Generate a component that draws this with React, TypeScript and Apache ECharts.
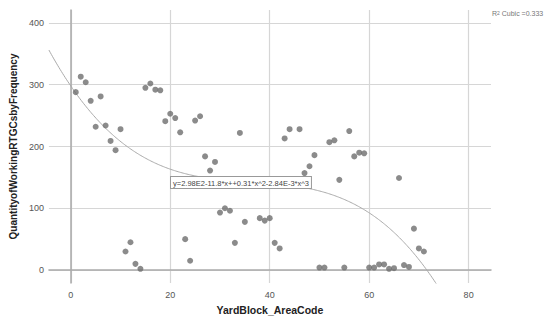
import React, { useEffect, useRef } from "react";
import * as echarts from "echarts";

const xValues = [1,2,3,4,5,6,7,8,9,10,11,12,13,14,15,16,17,18,19,20,21,22,23,24,25,26,27,28,29,30,31,32,33,34,35,38,39,40,41,42,43,44,46,47,48,49,50,51,52,53,54,55,56,57,58,59,60,61,62,63,64,65,66,67,68,69,70,71];
const yValues = [288,313,304,274,232,281,234,209,194,228,30,45,10,2,295,302,292,291,241,253,246,223,50,15,242,249,184,161,175,93,100,96,44,222,78,84,80,84,44,35,213,228,228,157,168,186,4,4,207,210,146,4,225,184,190,189,4,4,9,9,2,3,149,8,5,67,35,30];

// Cubic fit coefficients printed on the chart: y = b0 + b1*x + b2*x^2 + b3*x^3
const fitCoef = [298, -11.8, 0.31, -2.84e-3];
const fitLabel = "y=2.98E2-11.8*x++0.31*x^2-2.84E-3*x^3";
const rSquared = "0.333";

const xMin = -4.4;
const xMax = 84.5;
const yMin = -21;
const yMax = 421;

export default function App() {
  const ref = useRef<HTMLDivElement>(null);
  useEffect(() => {
    if (!ref.current) return;
    const chart = echarts.init(ref.current, null, { renderer: "svg" });
    const points = xValues.map((x, i) => [x, yValues[i]]);
    const curve: number[][] = [];
    for (let x = xMin; x <= xMax + 1e-9; x += 0.25) {
      const y = fitCoef[0] + fitCoef[1] * x + fitCoef[2] * x * x + fitCoef[3] * x * x * x;
      curve.push([x, y]);
    }
    const font = "Arial, 'Liberation Sans', sans-serif";
    chart.setOption({
      animation: false,
      backgroundColor: "#ffffff",
      textStyle: { fontFamily: font },
      grid: { left: 48, right: 59, top: 10, bottom: 41, containLabel: false },
      xAxis: {
        type: "value",
        min: xMin,
        max: xMax,
        name: "YardBlock_AreaCode",
        nameLocation: "middle",
        nameGap: 21,
        nameTextStyle: { fontSize: 10.5, fontWeight: "bold", color: "#222", fontFamily: font },
        axisLine: { show: true, lineStyle: { color: "#aaa", width: 1.5 } },
        axisTick: { show: false },
        axisLabel: { showMinLabel: false, showMaxLabel: false, fontSize: 9, color: "#555", margin: 7, fontFamily: font },
        splitLine: { show: true, showMinLine: false, showMaxLine: false, lineStyle: { color: "#d6d6d6", width: 1.2 } },
      },
      yAxis: {
        type: "value",
        min: yMin,
        max: yMax,
        name: "QuantityofWorkingRTGCsbyFrequency",
        nameLocation: "middle",
        nameGap: 23.5,
        nameTextStyle: { fontSize: 10, fontWeight: "bold", color: "#222", fontFamily: font },
        axisLine: { show: true, lineStyle: { color: "#aaa", width: 1.5 } },
        axisTick: { show: false },
        axisLabel: { showMinLabel: false, showMaxLabel: false, fontSize: 9, color: "#555", margin: 5, fontFamily: font },
        splitLine: { show: true, showMinLine: false, showMaxLine: false, lineStyle: { color: "#d6d6d6", width: 1.2 } },
      },
      series: [
        {
          type: "line",
          data: curve,
          showSymbol: false,
          symbol: "none",
          smooth: false,
          clip: true,
          lineStyle: { color: "#aaaaaa", width: 1 },
          silent: true,
          z: 2,
        },
        {
          type: "scatter",
          data: points,
          symbol: "circle",
          symbolSize: 6,
          itemStyle: { color: "#6e6e6e" },
          z: 3,
        },
      ],
      graphic: [
        {
          type: "text",
          left: 170,
          top: 176,
          z: 10,
          style: {
            text: fitLabel,
            fontSize: 7.5,
            fontFamily: font,
            fill: "#444",
            backgroundColor: "#ffffff",
            borderColor: "#999",
            borderWidth: 1,
            padding: [2, 2, 1, 2],
          },
        },
        {
          type: "text",
          left: 492,
          top: 10,
          z: 10,
          style: {
            text: "{a|R}{s|2}{a| Cubic =" + rSquared + "}",
            fontFamily: font,
            rich: {
              a: { fontSize: 7, fill: "#777", fontFamily: font },
              s: { fontSize: 5, fill: "#777", verticalAlign: "top", fontFamily: font },
            },
          },
        },
      ],
    });
    return () => chart.dispose();
  }, []);
  return (
    <div
      ref={ref}
      style={{ position: "fixed", left: 0, top: 0, width: 550, height: 324 }}
    />
  );
}
